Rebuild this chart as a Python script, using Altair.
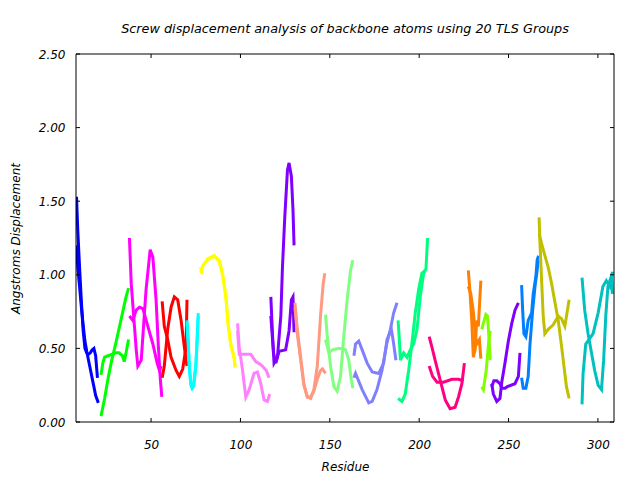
import altair as alt
import pandas as pd

X_TICKS = [50, 100, 150, 200, 250, 300]
Y_TICKS = [0.0, 0.5, 1.0, 1.5, 2.0, 2.5]

GROUP_NAMES = ["G01", "G02", "G03", "G04", "G05", "G06", "G07", "G08", "G09", "G10",
               "G11", "G12", "G13", "G14", "G15", "G16", "G17", "G18", "G19"]
GROUP_COLORS = ["#0000ff", "#00ff00", "#ff00ff", "#ff0000", "#00ffff", "#ffff00", "#ff80ff",
                "#8000ff", "#ff9980", "#80ff80", "#8080ff", "#00ff80", "#ff0080", "#ff8000",
                "#80ff00", "#8000ff", "#0080ff", "#c0c000", "#00c0c0"]

# (residue, displacement) pairs, two curves per TLS group
G01_A = [(8.3, 1.53), (9, 1.30), (10, 1.05), (11, 0.82), (12, 0.62), (13, 0.50), (14, 0.47),
         (15, 0.46), (16, 0.47), (17, 0.49), (18, 0.50), (19, 0.45), (20, 0.30)]
G01_B = [(8.3, 1.20), (9, 1.05), (10, 0.92), (11, 0.78), (12, 0.66), (13, 0.55), (14, 0.48),
         (15, 0.42), (16, 0.36), (17, 0.30), (18, 0.24), (19, 0.18), (20.5, 0.13)]
G02_A = [(22, 0.04), (24, 0.16), (26, 0.30), (28, 0.42), (30, 0.52), (32, 0.63), (34, 0.74),
         (36, 0.85), (37.4, 0.91)]
G02_B = [(22, 0.32), (23, 0.40), (24, 0.44), (26, 0.45), (28, 0.46), (30, 0.47), (32, 0.47),
         (34, 0.45), (35, 0.41), (36, 0.47), (37.4, 0.56)]
G03_A = [(37.9, 1.25), (38.9, 0.94), (41.7, 0.49), (42.6, 0.38), (44.5, 0.42), (47.2, 0.90),
         (49.5, 1.17), (51.0, 1.12), (52.8, 0.83), (54.1, 0.51), (55.2, 0.29), (56.0, 0.17)]
G03_B = [(37.9, 0.72), (39.8, 0.69), (41.7, 0.76), (43.5, 0.78), (45.4, 0.77), (48.2, 0.65),
         (51.0, 0.53), (53.4, 0.40), (54.7, 0.35), (55.6, 0.38)]
G04_A = [(56.2, 0.82), (57.4, 0.65), (59.3, 0.56), (61.2, 0.44), (64.0, 0.35), (65.8, 0.31),
         (67.7, 0.36), (69.6, 0.51), (70.1, 0.83)]
G04_B = [(56.2, 0.30), (57.4, 0.38), (59.3, 0.63), (61.2, 0.78), (63.0, 0.85), (64.9, 0.83),
         (66.8, 0.69), (68.6, 0.51), (70.1, 0.38)]
G05_A = [(70.1, 0.69), (70.8, 0.55), (71.4, 0.38), (72.3, 0.26), (73.0, 0.23), (73.8, 0.24),
         (75.1, 0.38), (75.8, 0.55), (76.4, 0.74)]
G05_B = [(70.1, 0.67), (70.8, 0.52), (71.4, 0.36), (72.3, 0.25), (73.0, 0.23), (73.8, 0.25),
         (75.1, 0.40), (75.8, 0.58), (76.4, 0.72)]
G06_A = [(77.5, 1.03), (78.2, 1.02), (78.9, 1.06), (81.7, 1.10), (85.3, 1.13), (88.1, 1.10),
         (90.0, 1.01), (91.9, 0.85), (93.1, 0.67), (94.6, 0.53), (96.5, 0.44), (97.0, 0.38)]
G06_B = [(77.5, 1.05), (78.2, 1.03), (78.9, 1.06), (81.7, 1.11), (85.3, 1.13), (88.1, 1.09),
         (90.0, 1.00), (91.9, 0.84), (93.1, 0.66), (94.6, 0.52), (96.5, 0.43), (97.0, 0.37)]
G07_A = [(98.4, 0.67), (99.3, 0.51), (101.2, 0.35), (103.0, 0.17), (104.9, 0.22), (107.6, 0.33),
         (109.5, 0.34), (111.4, 0.26), (113.2, 0.15), (115.1, 0.14), (116.4, 0.19)]
G07_B = [(98.4, 0.62), (99.3, 0.46), (102.1, 0.46), (105.8, 0.46), (108.6, 0.41), (111.4, 0.39),
         (114.5, 0.35), (116.0, 0.30)]
G08_A = [(117.0, 0.85), (118.0, 0.58), (118.8, 0.40), (120.7, 0.44), (122.6, 0.72), (123.5, 1.05),
         (124.8, 1.39), (126.3, 1.71), (127.2, 1.76), (128.5, 1.67), (129.4, 1.44), (130.0, 1.20)]
G08_B = [(117.0, 0.72), (118.5, 0.47), (119.8, 0.40), (121.6, 0.48), (125.3, 0.49), (127.2, 0.62),
         (128.5, 0.83), (129.4, 0.85), (130.0, 0.61)]
G09_A = [(130.5, 0.81), (131.8, 0.63), (133.7, 0.44), (135.5, 0.26), (137.4, 0.17), (139.3, 0.16),
         (141.1, 0.22), (143.0, 0.38), (144.8, 0.72), (146.3, 0.94), (147.2, 1.01)]
G09_B = [(130.5, 0.78), (131.8, 0.60), (133.7, 0.42), (135.5, 0.25), (137.4, 0.17), (139.3, 0.17),
         (141.1, 0.21), (143.0, 0.29), (144.8, 0.35), (145.9, 0.36), (147.6, 0.33)]
G10_A = [(147.6, 0.73), (148.6, 0.58), (150.4, 0.38), (152.3, 0.24), (154.1, 0.21), (156.0, 0.31),
         (157.8, 0.58), (159.7, 0.83), (161.6, 1.03), (162.9, 1.10)]
G10_B = [(147.6, 0.56), (149.5, 0.47), (151.4, 0.49), (155.1, 0.50), (158.8, 0.49), (160.6, 0.42),
         (162.0, 0.29), (162.9, 0.23)]
G11_A = [(163.5, 0.45), (164.4, 0.53), (166.2, 0.55), (168.1, 0.49), (170.9, 0.40), (173.7, 0.34),
         (177.4, 0.33), (180.1, 0.40), (182.0, 0.56), (184.4, 0.63), (185.5, 0.55), (187.0, 0.42)]
G11_B = [(163.5, 0.30), (164.4, 0.33), (168.1, 0.22), (171.8, 0.13), (173.7, 0.14), (176.4, 0.22),
         (179.2, 0.35), (182.0, 0.54), (183.9, 0.63), (185.7, 0.74), (187.6, 0.81)]
G12_A = [(188.2, 0.69), (188.9, 0.56), (189.5, 0.42), (191.3, 0.47), (193.2, 0.44), (195.0, 0.49),
         (196.9, 0.53), (198.8, 0.63), (200.6, 0.85), (202.5, 1.01), (203.8, 1.04), (204.7, 1.25)]
G12_B = [(188.2, 0.16), (190.4, 0.14), (192.2, 0.19), (194.1, 0.35), (195.9, 0.53), (197.8, 0.74),
         (199.7, 0.90), (201.5, 1.01), (203.4, 1.03)]
G13_A = [(205.6, 0.58), (207.1, 0.51), (208.9, 0.42), (210.8, 0.33), (212.7, 0.24), (214.6, 0.15),
         (217.3, 0.09), (220.1, 0.10), (222.0, 0.17), (223.9, 0.26), (225.3, 0.40)]
G13_B = [(205.6, 0.38), (207.5, 0.31), (210.0, 0.27), (213.6, 0.27), (218.3, 0.29), (222.0, 0.29),
         (224.8, 0.28)]
G14_A = [(227.5, 1.03), (228.5, 0.87), (229.4, 0.69), (230.3, 0.44), (231.3, 0.49), (232.2, 0.69),
         (233.1, 0.65), (234.5, 0.96)]
G14_B = [(227.5, 0.92), (228.9, 0.87), (230.3, 0.75), (231.3, 0.60), (232.2, 0.53), (233.7, 0.56),
         (234.5, 0.43)]
G15_A = [(235.0, 0.63), (235.9, 0.67), (237.3, 0.73), (238.2, 0.72), (239.3, 0.53), (239.7, 0.42)]
G15_B = [(235.0, 0.24), (235.9, 0.22), (237.5, 0.35), (238.8, 0.53), (239.7, 0.62)]
G16_A = [(240.6, 0.26), (241.5, 0.19), (243.4, 0.14), (245.2, 0.16), (246.2, 0.27), (248.0, 0.40),
         (249.9, 0.55), (251.8, 0.67), (253.6, 0.76), (255.5, 0.81)]
G16_B = [(240.6, 0.24), (241.8, 0.28), (243.4, 0.28), (245.2, 0.26), (246.2, 0.23), (248.0, 0.23),
         (249.3, 0.24), (253.6, 0.26), (255.5, 0.31), (256.4, 0.47)]
G17_A = [(257.3, 0.93), (257.9, 0.76), (258.6, 0.60), (259.7, 0.58), (261.0, 0.69), (262.9, 0.74),
         (263.8, 0.87), (265.3, 0.99), (266.0, 1.10), (266.8, 1.13)]
G17_B = [(257.3, 0.30), (258.2, 0.23), (259.7, 0.23), (261.0, 0.31), (262.0, 0.53), (263.5, 0.76),
         (264.8, 0.92), (266.0, 1.03), (266.6, 1.10)]
G18_A = [(267.1, 1.39), (267.5, 1.24), (268.5, 0.96), (269.4, 0.72), (270.3, 0.60), (272.2, 0.63),
         (275.0, 0.66), (277.8, 0.72), (279.7, 0.70), (281.5, 0.65), (283.9, 0.83)]
G18_B = [(267.1, 1.28), (269.4, 1.17), (272.2, 1.05), (274.1, 0.94), (276.0, 0.81), (277.8, 0.69),
         (279.7, 0.51), (281.0, 0.38), (282.4, 0.24), (283.9, 0.16)]
G19_A = [(291.1, 0.98), (292.6, 0.76), (294.5, 0.60), (296.4, 0.47), (298.2, 0.35), (300.1, 0.25),
         (302.0, 0.22), (303.2, 0.42), (304.4, 0.72), (305.6, 0.92), (307.5, 0.99), (308.1, 0.87)]
G19_B = [(291.1, 0.12), (291.7, 0.33), (293.2, 0.53), (295.0, 0.56), (297.3, 0.60), (300.1, 0.74),
         (302.8, 0.92), (304.7, 0.96), (306.6, 0.92), (308.1, 1.02)]

CURVES = [G01_A, G01_B, G02_A, G02_B, G03_A, G03_B, G04_A, G04_B, G05_A, G05_B,
          G06_A, G06_B, G07_A, G07_B, G08_A, G08_B, G09_A, G09_B, G10_A, G10_B,
          G11_A, G11_B, G12_A, G12_B, G13_A, G13_B, G14_A, G14_B, G15_A, G15_B,
          G16_A, G16_B, G17_A, G17_B, G18_A, G18_B, G19_A, G19_B]

rows = []
for i, curve in enumerate(CURVES):
    g = GROUP_NAMES[i // 2]
    for r, v in curve:
        rows.append({"group": g, "curve": f"c{i}", "residue": r, "value": v})
df = pd.DataFrame(rows)

W, H = 538, 368
FONT = "DejaVu Sans"
XS = alt.Scale(domain=[8, 309], nice=False, zero=False)
YS = alt.Scale(domain=[0, 2.5], nice=False)

lines = alt.Chart(df).mark_line(strokeWidth=3, clip=True).encode(
    x=alt.X("residue:Q", scale=XS,
            axis=alt.Axis(values=X_TICKS, title="Residue", grid=False, domain=False,
                          ticks=False, labelPadding=17, titlePadding=11)),
    y=alt.Y("value:Q", scale=YS,
            axis=alt.Axis(values=Y_TICKS, format=".2f", title="Angstroms Displacement",
                          grid=False, domain=False, ticks=False, labelPadding=11,
                          titlePadding=16)),
    color=alt.Color("group:N", scale=alt.Scale(domain=GROUP_NAMES, range=GROUP_COLORS),
                    legend=None),
    detail="curve:N",
)

xt = pd.DataFrame({"residue": X_TICKS})
yt = pd.DataFrame({"value": Y_TICKS})
tick_len = 4
xb = alt.Chart(xt).mark_rule(color="black", strokeWidth=1).encode(
    x=alt.X("residue:Q", scale=XS), y=alt.value(H), y2=alt.value(H - tick_len))
xtp = alt.Chart(xt).mark_rule(color="black", strokeWidth=1).encode(
    x=alt.X("residue:Q", scale=XS), y=alt.value(0), y2=alt.value(tick_len))
yl = alt.Chart(yt).mark_rule(color="black", strokeWidth=1).encode(
    y=alt.Y("value:Q", scale=YS), x=alt.value(0), x2=alt.value(tick_len))
yr = alt.Chart(yt).mark_rule(color="black", strokeWidth=1).encode(
    y=alt.Y("value:Q", scale=YS), x=alt.value(W), x2=alt.value(W - tick_len))
frame = alt.Chart(pd.DataFrame({"k": [0]})).mark_rect(
    fill=None, stroke="black", strokeWidth=1).encode(
    x=alt.value(0), x2=alt.value(W), y=alt.value(0), y2=alt.value(H))

chart = alt.layer(lines, xb, xtp, yl, yr, frame).properties(
    width=W, height=H,
    background="white",
    title=alt.TitleParams("Screw displacement analysis of backbone atoms using 20 TLS Groups",
                          font=FONT, fontSize=12.8, fontStyle="italic", fontWeight="normal",
                          anchor="middle", offset=12, color="black"),
    autosize=alt.AutoSizeParams(type="none"),
    padding={"left": 76, "top": 54, "right": 26, "bottom": 58},
).configure_view(stroke=None).configure_axis(
    labelFont=FONT, labelFontSize=12, labelFontStyle="italic", labelColor="black",
    titleFont=FONT, titleFontSize=12, titleFontStyle="italic", titleFontWeight="normal",
    titleColor="black",
)

chart.save("out.html", embed_options={"renderer": "svg", "actions": False})
